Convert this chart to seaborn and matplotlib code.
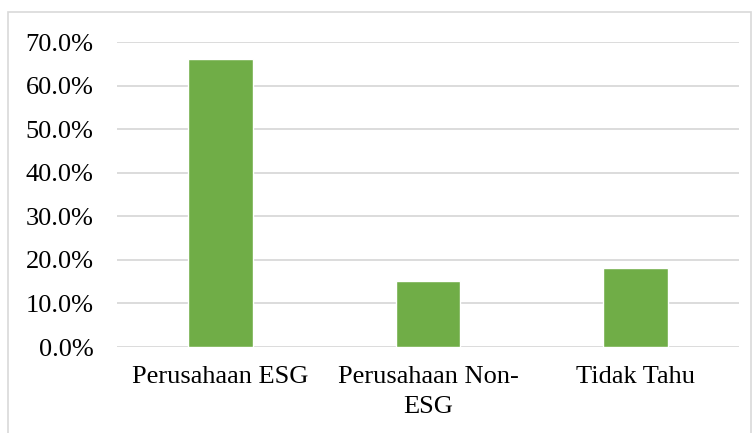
import matplotlib
matplotlib.use("Agg")
import matplotlib.pyplot as plt
import seaborn as sns
import pandas as pd
from matplotlib.patches import Rectangle

# data
categories = ["Perusahaan ESG", "Perusahaan Non-\nESG", "Tidak Tahu"]
values = [0.662, 0.151, 0.181]
yticks = [0.0, 0.1, 0.2, 0.3, 0.4, 0.5, 0.6, 0.7]
ytick_labels = ["0.0%", "10.0%", "20.0%", "30.0%", "40.0%", "50.0%", "60.0%", "70.0%"]

W, H = 755, 433

sns.set_style("white")
plt.rcParams["font.family"] = ["Liberation Serif", "DejaVu Serif"]

fig = plt.figure(figsize=(W / 100, H / 100), dpi=100)
ax = fig.add_axes([117 / W, (H - 347) / H, (739 - 117) / W, (347 - 42) / H])

df = pd.DataFrame({"category": categories, "value": values})
sns.barplot(data=df, x="category", y="value", color="#70ad47", saturation=1,
            width=0.313, ax=ax, zorder=3)

ax.set_ylim(0, 0.7)
ax.set_xlim(-0.5, 2.5)
ax.set_yticks(yticks)
ax.set_yticklabels(ytick_labels)
ax.yaxis.grid(True, color="#d9d9d9", linewidth=1.3, zorder=0)
ax.set_axisbelow(True)
for s in ax.spines.values():
    s.set_visible(False)
ax.tick_params(axis="both", length=0, labelsize=19, colors="black")
ax.tick_params(axis="y", pad=17)
ax.tick_params(axis="x", pad=14)
for lbl in ax.get_xticklabels():
    lbl.set_linespacing(1.45)
ax.set_xlabel("")
ax.set_ylabel("")

# outer chart border
fig.patches.append(Rectangle((8 / W, -0.05), (W - 12) / W, (H - 12) / H + 0.05,
                             transform=fig.transFigure, fill=False,
                             edgecolor="#d9d9d9", linewidth=1.2))

fig.savefig("out.png", dpi=100)
